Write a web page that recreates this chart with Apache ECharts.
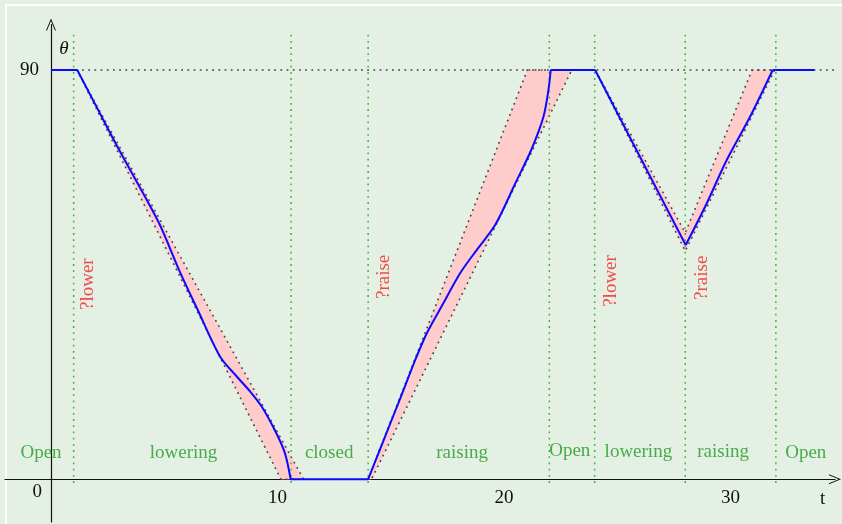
<!DOCTYPE html>
<html>
<head>
<meta charset="utf-8">
<script src="https://cdn.jsdelivr.net/npm/echarts@6/dist/echarts.min.js"></script>
<style>
  html, body { margin: 0; padding: 0; background: #e5f0e4; }
  #chart { width: 842px; height: 524px; }
</style>
</head>
<body>
<div id="chart"></div>
<script>
// gate angle θ over time t (blue curve)
const gateT = [0, 1.16, 2.0, 3.0, 4.0, 4.81, 5.7, 6.5, 7.46, 8.2, 8.79, 9.3, 9.9, 10.33, 10.58,
  14.0, 14.63, 15.1, 15.56, 16.02, 16.59, 17.32, 18.06, 18.79, 19.62, 20.5, 21.2, 21.74, 21.96, 22.06,
  24.02, 26.0, 28.02, 28.95, 29.83, 30.86, 31.86, 33.7];
const gateAngle = [90, 90, 82.0, 72.5, 63.5, 55.9, 45.5, 37.0, 27.0, 22.6, 19.3, 16.0, 10.6, 5.7, 0,
  0, 7.9, 13.8, 19.6, 25.5, 32.1, 38.7, 45.3, 50.4, 56.0, 65.1, 72.4, 79.7, 85.6, 90,
  90, 70.9, 51.5, 60.7, 70.2, 79.7, 90, 90];
// times where the curve has a sharp corner
const gateCorners = [1.16, 10.58, 14.0, 22.06, 24.02, 28.02, 31.86];

// allowed region (pink bands), vertices [t, θ]
const bandLower1 = [[1.15, 90], [10.15, 0], [11.15, 0]];
const bandRaise1 = [[14.0, 0], [21.03, 90], [22.99, 90], [14.15, 0]];
const bandLowerRaise2 = [[24.02, 90], [28, 50.2], [31.95, 90], [30.95, 90], [28, 54.2]];
const bands = [bandLower1, bandRaise1, bandLowerRaise2];

// dotted line at θ = 90
const openLineT = [0, 34.75];
const openAngle = 90;

// event times (green dotted verticals)
const eventT = [1, 10.6, 14, 22, 24, 28, 32];

// phase names (green)
const phaseNames = ['Open', 'lowering', 'closed', 'raising', 'Open', 'lowering', 'raising', 'Open'];
const phaseT = [-0.44, 5.85, 12.28, 18.15, 22.9, 25.93, 29.67, 33.32];
const phaseTheta = [5.7, 5.7, 5.7, 5.7, 6.1, 5.9, 5.9, 5.7];

// commands (red, rotated)
const cmdNames = ['?lower', '?raise', '?lower', '?raise'];
const cmdT = [1.62, 14.70, 24.72, 28.76];
const cmdTheta = [42.9, 44.5, 43.6, 44.3];

// tick labels
const xTicks = [10, 20, 30];
const yTicks = [0, 90];

const serif = 'Liberation Serif';
const chevron = 'path://M0,12 L5,0 L10,12 L9,12 L5,2.4 L1,12 Z';

// split the gate curve at its corners so smoothing keeps them sharp
function gateSegments() {
  let segs = [[]];
  gateT.forEach((t, i) => {
    let p = [t, gateAngle[i]];
    segs[segs.length - 1].push(p);
    if (gateCorners.indexOf(t) >= 0) segs.push([p]);
  });
  return segs.filter(s => s.length > 1);
}

let chart = echarts.init(document.getElementById('chart'));

let axisFont = { fontFamily: serif, fontSize: 19, color: '#111' };

let option = {
  backgroundColor: '#e5f0e4',
  animation: false,
  graphic: [
    {
      type: 'polyline',
      shape: { points: [[6, 524], [6, 5], [842, 5]] },
      style: { stroke: '#ffffff', lineWidth: 2, fill: null },
      z: 0
    }
  ],
  grid: [
    // plotting grid, axes lines cross at the origin
    { left: 5, right: 7, top: 24.5, bottom: 2, outerBoundsMode: 'none', containLabel: false },
    // label grid, its lower-left corner is the origin
    { left: 51, right: 7, top: 24.5, bottom: 44.7, outerBoundsMode: 'none', containLabel: false }
  ],
  xAxis: [
    {
      type: 'value',
      gridIndex: 0,
      min: -2.03,
      max: 34.61,
      splitLine: { show: false },
      axisTick: { show: false },
      axisLabel: { show: false },
      axisLine: {
        onZero: true,
        symbol: ['none', chevron],
        symbolSize: [10, 13],
        lineStyle: { color: '#111', width: 1.2 }
      }
    },
    {
      type: 'value',
      gridIndex: 1,
      min: 0,
      max: 34.61,
      splitLine: { show: false },
      axisTick: { show: false },
      axisLine: { show: false },
      axisLabel: Object.assign({ customValues: xTicks, margin: 9 }, axisFont),
      name: 't',
      nameLocation: 'end',
      nameGap: -15,
      nameTextStyle: Object.assign({ verticalAlign: 'top', padding: [10, 0, 0, 0] }, axisFont)
    }
  ],
  yAxis: [
    {
      type: 'value',
      gridIndex: 0,
      min: -9.4,
      max: 100,
      splitLine: { show: false },
      axisTick: { show: false },
      axisLabel: { show: false },
      axisLine: {
        onZero: true,
        symbol: ['none', chevron],
        symbolSize: [10, 13],
        lineStyle: { color: '#111', width: 1.2 }
      },
      name: 'θ',
      nameLocation: 'end',
      nameGap: -34,
      nameTextStyle: Object.assign({}, axisFont, { fontStyle: 'italic', padding: [0, 0, 0, 26] })
    },
    {
      type: 'value',
      gridIndex: 1,
      min: 0,
      max: 100,
      splitLine: { show: false },
      axisTick: { show: false },
      axisLine: { show: false },
      axisLabel: {
        customValues: yTicks,
        margin: 9,
        formatter: function (v) {
          return v === 0 ? '{z|0}' : '{n|' + v + '}';
        },
        rich: {
          z: Object.assign({ padding: [25, 0, 0, 0] }, axisFont),
          n: Object.assign({ padding: [0, 3, 0, 0] }, axisFont)
        }
      }
    }
  ],
  series: [
    // pink bands with dotted edges
    {
      type: 'custom',
      z: 1,
      clip: false,
      data: bands.map(b => b[0]),
      renderItem: function (params, api) {
        let pts = bands[params.dataIndex].map(p => api.coord(p));
        return {
          type: 'polygon',
          shape: { points: pts },
          style: { fill: '#ffcccc', stroke: '#444', lineWidth: 1.6, lineDash: [1.8, 4.2] }
        };
      }
    },
    // dotted line at 90
    {
      type: 'line',
      z: 2,
      symbol: 'none',
      data: openLineT.map(t => [t, openAngle]),
      lineStyle: { color: '#444', width: 1.6, type: [1.8, 4.4] }
    },
    // green event lines
    {
      type: 'custom',
      z: 2,
      clip: false,
      data: eventT.map(t => [t]),
      renderItem: function (params, api) {
        let t = api.value(0);
        let p1 = api.coord([t, -0.8]);
        let p2 = api.coord([t, 98]);
        return {
          type: 'line',
          shape: { x1: p1[0], y1: p1[1], x2: p2[0], y2: p2[1] },
          style: { stroke: '#3db33d', lineWidth: 1.5, lineDash: [1.8, 4.4] }
        };
      }
    }
  ].concat(gateSegments().map(seg => ({
    // gate angle
    type: 'line',
    z: 5,
    symbol: 'none',
    smooth: 0.3,
    data: seg,
    lineStyle: { color: '#0a0aff', width: 2 }
  }))).concat([
    // phase labels
    {
      type: 'scatter',
      z: 6,
      symbolSize: 1,
      itemStyle: { color: 'rgba(0,0,0,0)' },
      data: phaseT.map((t, i) => [t, phaseTheta[i], phaseNames[i]]),
      label: {
        show: true,
        position: 'inside',
        formatter: p => p.data[2],
        fontFamily: serif,
        fontSize: 19,
        color: '#1f9a1f'
      }
    },
    // command labels
    {
      type: 'scatter',
      z: 6,
      symbolSize: 1,
      itemStyle: { color: 'rgba(0,0,0,0)' },
      data: cmdT.map((t, i) => [t, cmdTheta[i], cmdNames[i]]),
      label: {
        show: true,
        position: 'inside',
        rotate: 90,
        formatter: p => p.data[2],
        fontFamily: serif,
        fontSize: 19,
        color: '#f52020'
      }
    }
  ])
};

chart.setOption(option);
</script>
</body>
</html>
